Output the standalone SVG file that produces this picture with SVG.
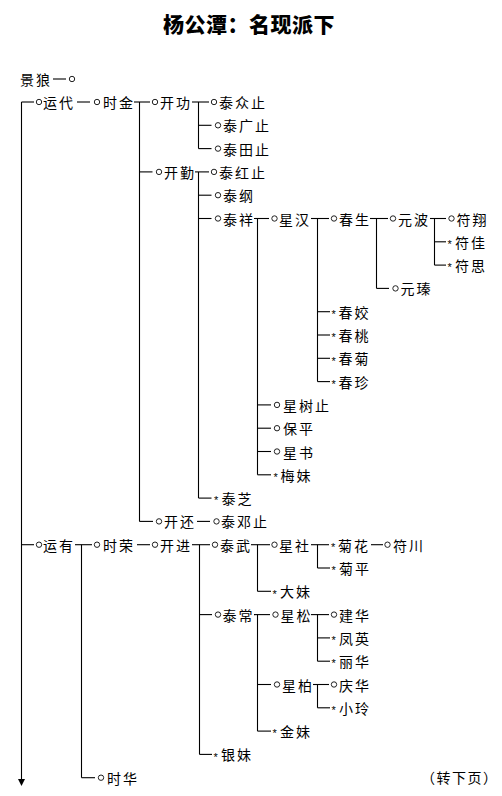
<svg xmlns="http://www.w3.org/2000/svg" width="502" height="796" viewBox="0 0 502 796">
<style>
.t{font-family:"Noto Sans CJK SC","Noto Sans CJK JP",sans-serif;font-size:14px;letter-spacing:2px;fill:#000}
.s{font-family:"Liberation Sans",sans-serif;font-size:11px;fill:#000}
.m{fill:#fff;stroke:#222;stroke-width:1}
.c line{stroke:#000;stroke-width:1.1}
.title{font-family:"Noto Sans CJK SC",sans-serif;font-size:21px;font-weight:900;letter-spacing:0.5px;fill:#000}
</style>
<rect width="502" height="796" fill="#fff"/>
<text class="title" x="249" y="32" text-anchor="middle">杨公潭：名现派下</text>

<g class="c" id="connectors">
<line x1="21.5" y1="102" x2="21.5" y2="780"/>
<polygon points="18,779 25,779 21.5,786" fill="#000"/>
<line x1="53" y1="79" x2="66" y2="79"/>
<line x1="21.5" y1="102" x2="34" y2="102"/>
<line x1="77" y1="102" x2="90" y2="102"/>
<line x1="134" y1="102" x2="150" y2="102"/>
<line x1="192" y1="102" x2="209" y2="102"/>
<line x1="139.5" y1="102" x2="139.5" y2="521.4"/>
<line x1="198.5" y1="102" x2="198.5" y2="148.6"/>
<line x1="198.5" y1="125.3" x2="211.5" y2="125.3"/>
<line x1="198.5" y1="148.6" x2="211.5" y2="148.6"/>
<line x1="139.5" y1="171.9" x2="152.5" y2="171.9"/>
<line x1="195" y1="171.9" x2="209" y2="171.9"/>
<line x1="198.5" y1="171.9" x2="198.5" y2="498.1"/>
<line x1="198.5" y1="195.2" x2="211.5" y2="195.2"/>
<line x1="198.5" y1="218.5" x2="211.5" y2="218.5"/>
<line x1="254" y1="218.5" x2="269" y2="218.5"/>
<line x1="311" y1="218.5" x2="329" y2="218.5"/>
<line x1="370" y1="218.5" x2="388" y2="218.5"/>
<line x1="430" y1="218.5" x2="446" y2="218.5"/>
<line x1="257.5" y1="218.5" x2="257.5" y2="474.8"/>
<line x1="317.5" y1="218.5" x2="317.5" y2="381.6"/>
<line x1="376.5" y1="218.5" x2="376.5" y2="288.4"/>
<line x1="434.5" y1="218.5" x2="434.5" y2="265.1"/>
<line x1="434.5" y1="241.8" x2="446" y2="241.8"/>
<line x1="434.5" y1="265.1" x2="446" y2="265.1"/>
<line x1="376.5" y1="288.4" x2="389" y2="288.4"/>
<line x1="317.5" y1="311.7" x2="330" y2="311.7"/>
<line x1="317.5" y1="335" x2="330" y2="335"/>
<line x1="317.5" y1="358.3" x2="330" y2="358.3"/>
<line x1="317.5" y1="381.6" x2="330" y2="381.6"/>
<line x1="257.5" y1="404.9" x2="271" y2="404.9"/>
<line x1="257.5" y1="428.2" x2="271" y2="428.2"/>
<line x1="257.5" y1="451.5" x2="271" y2="451.5"/>
<line x1="257.5" y1="474.8" x2="271" y2="474.8"/>
<line x1="198.5" y1="498.1" x2="211.5" y2="498.1"/>
<line x1="139.5" y1="521.4" x2="153" y2="521.4"/>
<line x1="197" y1="521.4" x2="210" y2="521.4"/>
<line x1="21.5" y1="544.7" x2="34" y2="544.7"/>
<line x1="75" y1="544.7" x2="92" y2="544.7"/>
<line x1="81.5" y1="544.7" x2="81.5" y2="777.7"/>
<line x1="137" y1="544.7" x2="150" y2="544.7"/>
<line x1="192" y1="544.7" x2="210" y2="544.7"/>
<line x1="199.5" y1="544.7" x2="199.5" y2="754.4"/>
<line x1="251" y1="544.7" x2="270" y2="544.7"/>
<line x1="257.5" y1="544.7" x2="257.5" y2="591.3"/>
<line x1="311" y1="544.7" x2="329" y2="544.7"/>
<line x1="317.5" y1="544.7" x2="317.5" y2="568"/>
<line x1="371" y1="544.7" x2="383" y2="544.7"/>
<line x1="317.5" y1="568" x2="330" y2="568"/>
<line x1="257.5" y1="591.3" x2="271" y2="591.3"/>
<line x1="199.5" y1="614.6" x2="212" y2="614.6"/>
<line x1="254" y1="614.6" x2="270" y2="614.6"/>
<line x1="257.5" y1="614.6" x2="257.5" y2="731.1"/>
<line x1="311" y1="614.6" x2="329" y2="614.6"/>
<line x1="317.5" y1="614.6" x2="317.5" y2="661.2"/>
<line x1="317.5" y1="637.9" x2="330" y2="637.9"/>
<line x1="317.5" y1="661.2" x2="330" y2="661.2"/>
<line x1="257.5" y1="684.5" x2="271" y2="684.5"/>
<line x1="313" y1="684.5" x2="329" y2="684.5"/>
<line x1="317.5" y1="684.5" x2="317.5" y2="707.8"/>
<line x1="317.5" y1="707.8" x2="330" y2="707.8"/>
<line x1="257.5" y1="731.1" x2="271" y2="731.1"/>
<line x1="199.5" y1="754.4" x2="212" y2="754.4"/>
<line x1="81.5" y1="777.7" x2="95" y2="777.7"/>
</g>

<g id="n-jinglang"><text class="t" x="20" y="85">景狼</text><circle class="m" cx="72" cy="79" r="2.7"/></g>
<g id="n-yundai"><circle class="m" cx="39" cy="102" r="2.7"/><text class="t" x="43" y="108">运代</text></g>
<g id="n-shijin"><circle class="m" cx="97" cy="102" r="2.7"/><text class="t" x="103" y="108">时金</text></g>
<g id="n-kaigong"><circle class="m" cx="155" cy="102" r="2.7"/><text class="t" x="160" y="108">开功</text></g>
<g id="n-taizhongzhi"><circle class="m" cx="214" cy="102" r="2.7"/><text class="t" x="219" y="108">泰众止</text></g>
<g id="n-taiguangzhi"><circle class="m" cx="218" cy="125.3" r="2.7"/><text class="t" x="223" y="131.3">泰广止</text></g>
<g id="n-taitianzhi"><circle class="m" cx="218" cy="148.6" r="2.7"/><text class="t" x="223" y="154.6">泰田止</text></g>
<g id="n-kaiqin"><circle class="m" cx="159" cy="171.9" r="2.7"/><text class="t" x="164" y="177.9">开勤</text></g>
<g id="n-taihongzhi"><circle class="m" cx="214" cy="171.9" r="2.7"/><text class="t" x="219" y="177.9">泰红止</text></g>
<g id="n-taigang"><circle class="m" cx="218" cy="195.2" r="2.7"/><text class="t" x="223" y="201.2">泰纲</text></g>
<g id="n-taixiang"><circle class="m" cx="218" cy="218.5" r="2.7"/><text class="t" x="223" y="224.5">泰祥</text></g>
<g id="n-xinghan"><circle class="m" cx="274.5" cy="218.5" r="2.7"/><text class="t" x="279" y="224.5">星汉</text></g>
<g id="n-chunsheng"><circle class="m" cx="334" cy="218.5" r="2.7"/><text class="t" x="339" y="224.5">春生</text></g>
<g id="n-yuanbo"><circle class="m" cx="393" cy="218.5" r="2.7"/><text class="t" x="398" y="224.5">元波</text></g>
<g id="n-fuxiang"><circle class="m" cx="451.5" cy="218.5" r="2.7"/><text class="t" x="456.5" y="224.5">符翔</text></g>
<g id="n-fujia"><text class="s" x="447.5" y="248">*</text><text class="t" x="455" y="247.8">符佳</text></g>
<g id="n-fusi"><text class="s" x="447.5" y="271.3">*</text><text class="t" x="455" y="271.1">符思</text></g>
<g id="n-yuanzhen"><circle class="m" cx="395.5" cy="288.4" r="2.7"/><text class="t" x="400.5" y="294.4">元瑧</text></g>
<g id="n-chunjiao"><text class="s" x="331.5" y="317.9">*</text><text class="t" x="338.5" y="317.7">春姣</text></g>
<g id="n-chuntao"><text class="s" x="331.5" y="341.2">*</text><text class="t" x="338.5" y="341">春桃</text></g>
<g id="n-chunju"><text class="s" x="331.5" y="364.5">*</text><text class="t" x="338.5" y="364.3">春菊</text></g>
<g id="n-chunzhen"><text class="s" x="331.5" y="387.8">*</text><text class="t" x="338.5" y="387.6">春珍</text></g>
<g id="n-xingshuzhi"><circle class="m" cx="277" cy="404.9" r="2.7"/><text class="t" x="283" y="410.9">星树止</text></g>
<g id="n-baoping"><circle class="m" cx="277" cy="428.2" r="2.7"/><text class="t" x="283" y="434.2">保平</text></g>
<g id="n-xingshu"><circle class="m" cx="277" cy="451.5" r="2.7"/><text class="t" x="283" y="457.5">星书</text></g>
<g id="n-meimei"><text class="s" x="273.5" y="481">*</text><text class="t" x="280.5" y="480.8">梅妹</text></g>
<g id="n-taizhi"><text class="s" x="214" y="504.3">*</text><text class="t" x="221.5" y="504.1">泰芝</text></g>
<g id="n-kaihuan"><circle class="m" cx="159" cy="521.4" r="2.7"/><text class="t" x="164" y="527.4">开还</text></g>
<g id="n-taidengzhi"><circle class="m" cx="216.5" cy="521.4" r="2.7"/><text class="t" x="221" y="527.4">泰邓止</text></g>
<g id="n-yunyou"><circle class="m" cx="39" cy="544.7" r="2.7"/><text class="t" x="43" y="550.7">运有</text></g>
<g id="n-shirong"><circle class="m" cx="97" cy="544.7" r="2.7"/><text class="t" x="103" y="550.7">时荣</text></g>
<g id="n-kaijin"><circle class="m" cx="155" cy="544.7" r="2.7"/><text class="t" x="160" y="550.7">开进</text></g>
<g id="n-taiwu"><circle class="m" cx="215" cy="544.7" r="2.7"/><text class="t" x="220" y="550.7">泰武</text></g>
<g id="n-xingshe"><circle class="m" cx="274.5" cy="544.7" r="2.7"/><text class="t" x="279" y="550.7">星社</text></g>
<g id="n-juhua"><text class="s" x="331" y="550.9">*</text><text class="t" x="338" y="550.7">菊花</text></g>
<g id="n-fuchuan"><circle class="m" cx="387.5" cy="544.7" r="2.7"/><text class="t" x="393" y="550.7">符川</text></g>
<g id="n-juping"><text class="s" x="331.5" y="574.2">*</text><text class="t" x="339" y="574">菊平</text></g>
<g id="n-damei"><text class="s" x="272.5" y="597.5">*</text><text class="t" x="280" y="597.3">大妹</text></g>
<g id="n-taichang"><circle class="m" cx="218" cy="614.6" r="2.7"/><text class="t" x="222.5" y="620.6">泰常</text></g>
<g id="n-xingsong"><circle class="m" cx="275.5" cy="614.6" r="2.7"/><text class="t" x="280.5" y="620.6">星松</text></g>
<g id="n-jianhua"><circle class="m" cx="334" cy="614.6" r="2.7"/><text class="t" x="339" y="620.6">建华</text></g>
<g id="n-fengying"><text class="s" x="331.5" y="644.1">*</text><text class="t" x="339" y="643.9">凤英</text></g>
<g id="n-lihua"><text class="s" x="331.5" y="667.4">*</text><text class="t" x="339" y="667.2">丽华</text></g>
<g id="n-xingbai"><circle class="m" cx="277" cy="684.5" r="2.7"/><text class="t" x="282" y="690.5">星柏</text></g>
<g id="n-qinghua"><circle class="m" cx="334" cy="684.5" r="2.7"/><text class="t" x="339" y="690.5">庆华</text></g>
<g id="n-xiaoling"><text class="s" x="331.5" y="714">*</text><text class="t" x="339" y="713.8">小玲</text></g>
<g id="n-jinmei"><text class="s" x="272.5" y="737.3">*</text><text class="t" x="280" y="737.1">金妹</text></g>
<g id="n-yinmei"><text class="s" x="213.5" y="760.6">*</text><text class="t" x="221" y="760.4">银妹</text></g>
<g id="n-shihua"><circle class="m" cx="101" cy="777.7" r="2.7"/><text class="t" x="107" y="783.7">时华</text></g>
<text class="t" x="421" y="783" style="letter-spacing:1.5px">（转下页）</text>
</svg>
